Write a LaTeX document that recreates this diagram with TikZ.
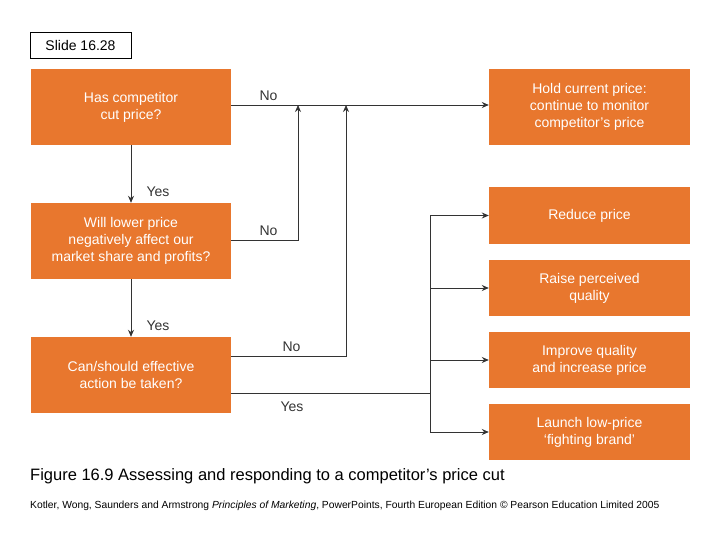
\documentclass[tikz,border=0pt]{standalone}
\usepackage{fontspec}
\setmainfont{Liberation Sans}
\usetikzlibrary{arrows.meta}
\definecolor{org}{HTML}{E8772E}
\definecolor{ln}{HTML}{333333}
\begin{document}
\begin{tikzpicture}[x=1pt,y=-1pt,
  box/.style={fill=org,draw=none,text=white,align=center,font=\fontsize{14}{17}\selectfont,inner sep=0pt},
  lab/.style={font=\fontsize{14}{16}\selectfont,text=ln},
  con/.style={draw=ln,line width=0.8pt},
  arr/.style={con,-{Stealth[length=7pt,width=6pt]}}]
\useasboundingbox (0,0) rectangle (720,540);
\node[draw=black,line width=0.6pt,minimum width=101pt,minimum height=26pt,inner sep=0pt,font=\fontsize{14}{16}\selectfont] (slide) at (80.5,45) {Slide 16.28};
\node[box,minimum width=200pt,minimum height=76pt] (b1) at (131,107) {Has competitor\\cut price?};
\node[box,minimum width=200pt,minimum height=76pt] (b2) at (131,241) {Will lower price\\negatively affect our\\market share and profits?};
\node[box,minimum width=200pt,minimum height=76pt] (b3) at (131,375) {Can/should effective\\action be taken?};
\node[box,minimum width=201pt,minimum height=76pt] (r1) at (589.5,107) {Hold current price:\\continue to monitor\\competitor's price};
\node[box,minimum width=201pt,minimum height=56pt] (r2) at (589.5,215.5) {Reduce price};
\node[box,minimum width=201pt,minimum height=56pt] (r3) at (589.5,288) {Raise perceived\\quality};
\node[box,minimum width=201pt,minimum height=56pt] (r4) at (589.5,360) {Improve quality\\and increase price};
\node[box,minimum width=201pt,minimum height=56pt] (r5) at (589.5,432) {Launch low-price\\`fighting brand'};
\coordinate (j2) at (298,240);
\coordinate (j3) at (346,356);
\coordinate (jy) at (430,393);
\coordinate (vt) at (430,215.5);
\coordinate (vb) at (430,432);
\draw[arr] (b1.east|-0,105) -- (r1.west|-0,105);
\draw[arr] (b1) -- (b2);
\draw[arr] (b2) -- (b3);
\draw[arr] (b2.east|-j2) -- (j2) -- (298,105);
\draw[arr] (b3.east|-j3) -- (j3) -- (346,105);
\draw[con] (b3.east|-jy) -- (jy);
\draw[con] (vt) -- (vb);
\draw[arr] (vt) -- (r2.west|-vt);
\draw[arr] (430,288) -- (r3.west);
\draw[arr] (430,360) -- (r4.west);
\draw[arr] (vb) -- (r5.west|-vb);
\node[lab,anchor=west] (l1) at (256,96) {No};
\node[lab,anchor=west] (l2) at (143,192) {Yes};
\node[lab,anchor=west] (l3) at (256,231) {No};
\node[lab,anchor=west] (l4) at (143,326) {Yes};
\node[lab,anchor=west] (l5) at (279,347) {No};
\node[lab,anchor=west] (l6) at (277,407) {Yes};
\node[anchor=west,inner sep=0pt,font=\fontsize{16.5}{19}\selectfont] (cap) at (30,476) {Figure 16.9 Assessing and responding to a competitor's price cut};
\node[anchor=west,inner sep=0pt,font=\fontsize{10.3}{12}\selectfont] (foot) at (30,506) {Kotler, Wong, Saunders and Armstrong \textit{Principles of Marketing}, PowerPoints, Fourth European Edition © Pearson Education Limited 2005};
\end{tikzpicture}
\end{document}
